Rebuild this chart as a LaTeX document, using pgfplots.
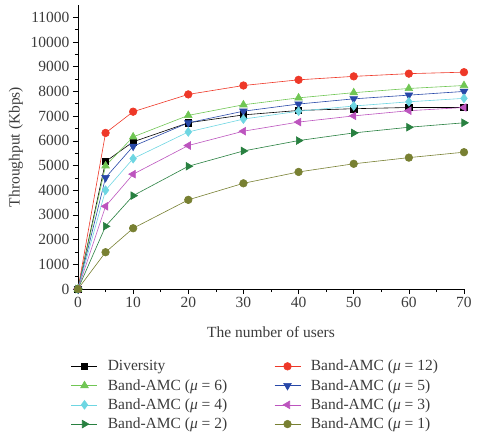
\documentclass[border=0pt]{standalone}
\usepackage{fontspec}
\setmainfont{Liberation Serif}
\usepackage{pgfplots}
\pgfplotsset{compat=1.18}

\definecolor{txtgray}{RGB}{60,60,60}
\definecolor{cRed}{RGB}{238,56,40}
\definecolor{cLGreen}{RGB}{112,198,84}
\definecolor{cBlue}{RGB}{40,72,168}
\definecolor{cCyan}{RGB}{110,214,226}
\definecolor{cMag}{RGB}{188,84,190}
\definecolor{cDGreen}{RGB}{40,128,64}
\definecolor{cOlive}{RGB}{120,128,50}

\newcommand{\mulab}[1]{Band-AMC ({\itshape μ} = #1)}
\newcommand{\chartfont}{\fontsize{15.5}{17}\selectfont}

\begin{document}
\begin{tikzpicture}
\begin{axis}[
  name=ax,
  scale only axis,
  width=386pt, height=284pt,
  xmin=0, xmax=70, ymin=0, ymax=11500,
  axis x line=bottom, axis y line=left,
  axis line style={-, black, line width=0.6pt},
  xtick={0,10,...,70}, ytick={0,1000,...,11000},
  minor x tick num=1, minor y tick num=1,
  tick align=outside,
  major tick length=5pt, minor tick length=3pt,
  tick style={black, line width=0.6pt},
  scaled y ticks=false,
  /pgf/number format/assume math mode=true,
  /pgf/number format/1000 sep={},
  tick label style={font=\chartfont, text=txtgray},
  label style={font=\chartfont, text=txtgray},
  xlabel={The number of users},
  ylabel={Throughput (Kbps)},
  xlabel style={yshift=-12pt},
  ylabel style={yshift=1pt},
  every axis plot/.append style={line width=0.6pt},
  legend columns=2,
  legend cell align=left,
  legend style={
    draw=none, fill=none,
    at={(rel axis cs:0,0)}, anchor=north west,
    xshift=-10pt, yshift=-67pt,
    font=\chartfont, text=txtgray,
    row sep=3pt,
    /tikz/every odd column/.append style={column sep=8pt},
    /tikz/every even column/.append style={column sep=45pt},
  },
  legend image code/.code={
    \draw[#1] (0pt,0pt) -- (26pt,0pt);
    \draw[#1, only marks] plot coordinates {(13pt,0pt)};
  },
]
% Diversity
\addplot[black, mark=square*, mark size=3.2pt] coordinates {
  (0,0) (5,5160) (10,5960) (20,6730) (30,7050) (40,7230) (50,7300) (60,7350) (70,7350)};
\addlegendentry{Diversity}
% mu = 12
\addplot[cRed, mark=*, mark size=3.8pt] coordinates {
  (0,0) (5,6320) (10,7180) (20,7880) (30,8240) (40,8470) (50,8610) (60,8720) (70,8780)};
\addlegendentry{\mulab{12}}
% mu = 6
\addplot[cLGreen, mark=triangle*, mark size=4.4pt] coordinates {
  (0,0) (5,4990) (10,6160) (20,7030) (30,7460) (40,7740) (50,7950) (60,8120) (70,8240)};
\addlegendentry{\mulab{6}}
% mu = 5
\addplot[cBlue, mark=triangle*, mark size=4.4pt, mark options={rotate=180}] coordinates {
  (0,0) (5,4510) (10,5780) (20,6730) (30,7200) (40,7490) (50,7700) (60,7850) (70,8000)};
\addlegendentry{\mulab{5}}
% mu = 4
\addplot[cCyan, mark=diamond*, mark size=4.4pt] coordinates {
  (0,0) (5,4000) (10,5280) (20,6360) (30,6880) (40,7200) (50,7410) (60,7580) (70,7720)};
\addlegendentry{\mulab{4}}
% mu = 3
\addplot[cMag, mark=triangle*, mark size=4.4pt, mark options={rotate=90}] coordinates {
  (0,0) (5,3350) (10,4650) (20,5810) (30,6390) (40,6760) (50,7010) (60,7220) (70,7350)};
\addlegendentry{\mulab{3}}
% mu = 2
\addplot[cDGreen, mark=triangle*, mark size=4.4pt, mark options={rotate=-90}] coordinates {
  (0,0) (5,2540) (10,3780) (20,4970) (30,5590) (40,6010) (50,6320) (60,6550) (70,6730)};
\addlegendentry{\mulab{2}}
% mu = 1
\addplot[cOlive, mark=*, mark size=3.8pt] coordinates {
  (0,0) (5,1490) (10,2460) (20,3610) (30,4280) (40,4740) (50,5070) (60,5320) (70,5540)};
\addlegendentry{\mulab{1}}
\end{axis}
\pgfresetboundingbox
\path[use as bounding box] ([xshift=-78pt,yshift=-145pt]ax.south west) rectangle ++(477pt,434pt);
\end{tikzpicture}
\end{document}
